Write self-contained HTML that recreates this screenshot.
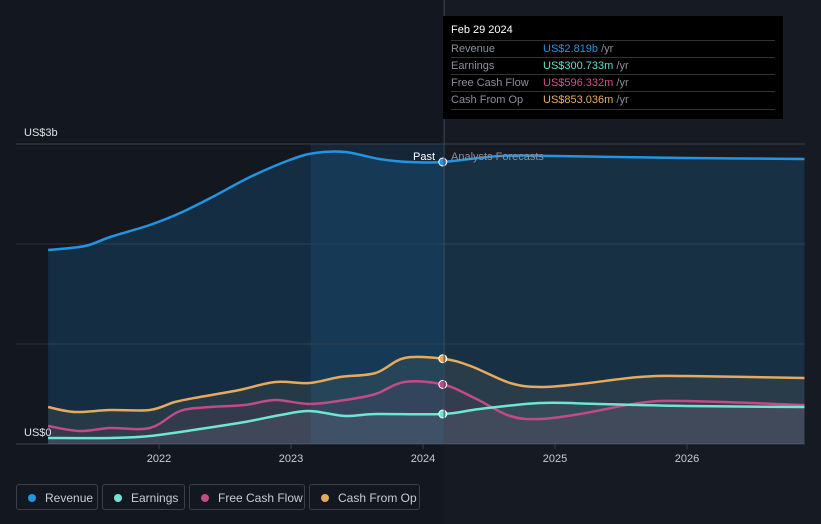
<!DOCTYPE html>
<html><head><meta charset="utf-8">
<style>
body{margin:0;background:#151a23;width:821px;height:524px;overflow:hidden;font-family:"Liberation Sans",sans-serif;}
svg{position:absolute;left:0;top:0}
.tip{position:absolute;left:443px;top:16px;width:340px;height:103px;background:#000;color:#fff;font-size:11px}
.tip .row{position:absolute;left:8px;width:324px;border-top:1px solid #333;height:17px;line-height:17px;color:#8a8f98}
.tip .v{position:absolute;left:92px}
.leg{position:absolute;top:484px;height:26px;border:1px solid #3a3f4a;border-radius:3px;color:#c9ccd2;font-size:12px;line-height:26px;box-sizing:border-box}
.leg i{position:absolute;left:11px;top:9px;width:8px;height:8px;border-radius:50%}
.leg span{position:absolute;left:28px}
</style></head><body>
<svg id="chart" width="821" height="524"></svg>
<div class="tip">
 <div style="position:absolute;left:8px;top:8px;font-size:11px">Feb 29 2024</div>
 <div class="row" style="top:24px">Revenue<span class="v" style="color:#2394e0">US$2.819b <span style="color:#8a8f98">/yr</span></span></div>
 <div class="row" style="top:41px">Earnings<span class="v" style="color:#5ee0c8">US$300.733m <span style="color:#8a8f98">/yr</span></span></div>
 <div class="row" style="top:58px">Free Cash Flow<span class="v" style="color:#d64e8c">US$596.332m <span style="color:#8a8f98">/yr</span></span></div>
 <div class="row" style="top:75px;border-bottom:1px solid #333">Cash From Op<span class="v" style="color:#e9ae5c">US$853.036m <span style="color:#8a8f98">/yr</span></span></div>
</div>
<div class="leg" style="left:16px;width:82px"><i style="background:#2394e0"></i><span>Revenue</span></div>
<div class="leg" style="left:102px;width:83px"><i style="background:#6ee6d2"></i><span>Earnings</span></div>
<div class="leg" style="left:189px;width:116px"><i style="background:#c24a85"></i><span>Free Cash Flow</span></div>
<div class="leg" style="left:309px;width:111px"><i style="background:#e6aa5e"></i><span>Cash From Op</span></div>
<script>
const xTicks=[2022,2023,2024,2025,2026];
const yTicks=[0,1,2,3];
const revX=[2021.16,2021.44,2021.63,2021.93,2022.16,2022.39,2022.69,2022.99,2023.18,2023.41,2023.67,2023.9,2024.15,2024.58,2025,2025.99,2026.89];
const revY=[1.94,1.98,2.07,2.19,2.31,2.46,2.67,2.84,2.91,2.92,2.85,2.82,2.82,2.88,2.88,2.86,2.85];
const cfoX=[2021.16,2021.36,2021.63,2021.93,2022.12,2022.31,2022.61,2022.88,2023.14,2023.37,2023.64,2023.86,2024.15,2024.36,2024.66,2024.89,2025.19,2025.64,2025.99,2026.89];
const cfoY=[0.37,0.32,0.34,0.34,0.42,0.47,0.54,0.62,0.61,0.67,0.71,0.86,0.853,0.78,0.61,0.57,0.60,0.67,0.68,0.66];
const fcfX=[2021.16,2021.40,2021.63,2021.93,2022.16,2022.39,2022.65,2022.88,2023.14,2023.41,2023.64,2023.86,2024.15,2024.39,2024.66,2024.89,2025.19,2025.64,2025.99,2026.89];
const fcfY=[0.18,0.13,0.16,0.16,0.33,0.37,0.39,0.44,0.40,0.44,0.50,0.62,0.596,0.46,0.28,0.25,0.30,0.41,0.43,0.39];
const earX=[2021.16,2021.63,2021.93,2022.31,2022.65,2022.92,2023.14,2023.41,2023.64,2024.15,2024.43,2024.89,2025.34,2025.99,2026.89];
const earY=[0.06,0.06,0.08,0.15,0.22,0.29,0.33,0.28,0.30,0.30,0.35,0.41,0.40,0.38,0.37];
const NOW=2024.16, BAND0=2023.15;
const X=v=>159+(v-2022)*132, Y=v=>444-v*100;
const svg=document.getElementById('chart'),NS='http://www.w3.org/2000/svg';
function mk(t,a,name,par){const e=document.createElementNS(NS,t);for(const k in a)e.setAttribute(k,a[k]);


(par||svg).appendChild(e);return e;}
function path(xs,ys){const p=xs.map((x,i)=>[X(x),Y(ys[i])]);let d='M'+p[0];
for(let i=0;i<p.length-1;i++){const a=p[i-1]||p[i],b=p[i],c=p[i+1],e=p[i+2]||c;
d+=' C'+(b[0]+(c[0]-a[0])/6)+','+(b[1]+(c[1]-a[1])/6)+' '+(c[0]-(e[0]-b[0])/6)+','+(c[1]-(e[1]-b[1])/6)+' '+c;}return d;}
// background: past region darker
mk('rect',{x:0,y:0,width:X(NOW),height:524,fill:'#131720'},'past-background');
mk('rect',{x:X(BAND0),y:Y(3),width:X(NOW)-X(BAND0),height:300,fill:'rgba(35,148,224,0.12)'},'highlight-band');
yTicks.forEach(t=>mk('line',{x1:16,x2:805,y1:Y(t),y2:Y(t),stroke:t==0||t==3?'#3a3f4a':'#2a303b','stroke-width':1},'gridline'));
const series=[[revX,revY,'#2394e0','rgba(35,148,224,0.18)','revenue'],[cfoX,cfoY,'#e6aa5e','rgba(200,170,120,0.10)','cash-from-op'],[fcfX,fcfY,'#c24a85','rgba(200,80,140,0.08)','free-cash-flow'],[earX,earY,'#6ee6d2','rgba(160,170,180,0.12)','earnings']];
series.forEach(s=>{const d=path(s[0],s[1]);
mk('path',{d:d+' L'+X(s[0][s[0].length-1])+','+Y(0)+' L'+X(s[0][0])+','+Y(0)+'Z',fill:s[3]},s[4]+'-area');});
series.forEach(s=>{mk('path',{d:path(s[0],s[1]),fill:'none',stroke:s[2],'stroke-width':2.5},s[4]+'-line');
const i=s[0].indexOf(2024.15);mk('circle',{cx:X(s[0][i]),cy:Y(s[1][i]),r:4,fill:s[2],stroke:'#fff','stroke-width':1},s[4]+'-marker');});
mk('line',{x1:X(NOW),x2:X(NOW),y1:0,y2:444,stroke:'#3a4a5a','stroke-width':1},'now-line');
xTicks.forEach(t=>{mk('line',{x1:X(t),x2:X(t),y1:444,y2:449,stroke:'#3a3f4a'},'x-tick');
const e=mk('text',{x:X(t),y:462,fill:'#c9ccd2','font-size':11,'text-anchor':'middle'},'x-tick-label');e.textContent=t;});
let t=mk('text',{x:24,y:136,fill:'#e0e2e6','font-size':11},'y-label-top');t.textContent='US$3b';
t=mk('text',{x:24,y:436,fill:'#e0e2e6','font-size':11},'y-label-zero');t.textContent='US$0';
t=mk('text',{x:435,y:160,fill:'#fff','font-size':11,'text-anchor':'end'},'past-label');t.textContent='Past';
t=mk('text',{x:451,y:160,fill:'#8a8f98','font-size':11},'forecast-label');t.textContent='Analysts Forecasts';
</script>
</body></html>
